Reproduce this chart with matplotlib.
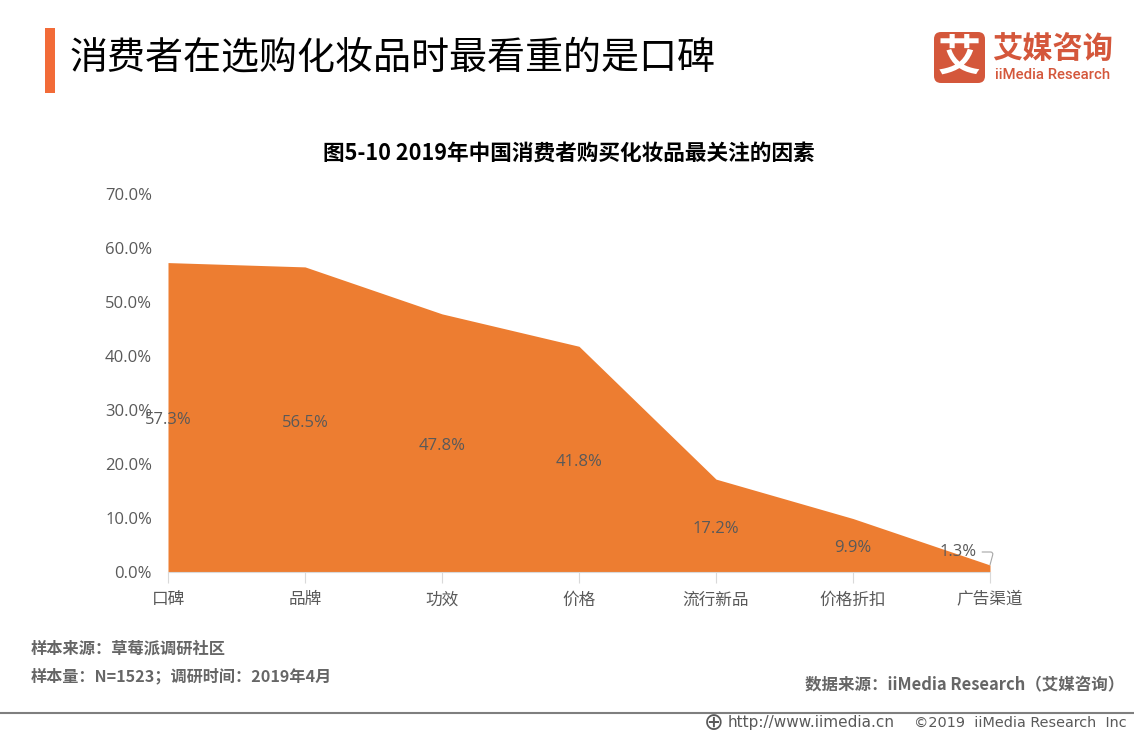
import matplotlib.pyplot as plt
from matplotlib.patches import FancyBboxPatch, Rectangle

plt.rcParams['font.family'] = ['Noto Sans CJK SC', 'DejaVu Sans']

# data
categories = ['口碑', '品牌', '功效', '价格', '流行新品', '价格折扣', '广告渠道']
values = [57.3, 56.5, 47.8, 41.8, 17.2, 9.9, 1.3]
y_ticks = [0, 10, 20, 30, 40, 50, 60, 70]

W, H = 1134, 737
fig = plt.figure(figsize=(W / 100, H / 100), dpi=100, facecolor='white')

# overlay in pixel coords for the page decoration
bg = fig.add_axes([0, 0, 1, 1])
bg.set_xlim(0, W)
bg.set_ylim(H, 0)
bg.axis('off')

# main plot
ax = fig.add_axes([168 / W, 1 - 572 / H, (990 - 168) / W, (572 - 194) / H])
x = list(range(len(categories)))
ax.fill_between(x, values, 0, color='#ED7D31', linewidth=0, zorder=2)
ax.set_xlim(0, 6)
ax.set_ylim(0, 70)
ax.patch.set_alpha(0)
for s in ['top', 'right', 'left']:
    ax.spines[s].set_visible(False)
ax.spines['bottom'].set_color('#D9D9D9')
ax.set_xticks(x)
ax.set_xticklabels(categories, fontsize=12, color='#595959')
ax.tick_params(axis='x', length=8, color='#D9D9D9', pad=6)
ax.set_yticks(y_ticks)
ax.set_yticklabels([f'{v:.1f}%' for v in y_ticks], fontsize=12, color='#595959',
                   family='Open Sans')
ax.tick_params(axis='y', length=0, pad=11.5)

# labels sit mid-height in the area, a touch under the middle
for i, v in enumerate(values[:-1]):
    ax.annotate(f'{v}%', xy=(i, v / 2), xytext=(0, -2.2), textcoords='offset points',
                ha='center', va='center', fontsize=12, color='#595959',
                family='Open Sans', annotation_clip=False, zorder=3)
ax.annotate(f'{values[-1]}%', xy=(6, values[-1]), xytext=(958, 552),
            textcoords=bg.transData, ha='center', va='center', fontsize=12,
            color='#595959', family='Open Sans', annotation_clip=False, zorder=3,
            arrowprops=dict(arrowstyle='-', color='#A6A6A6', lw=0.8,
                            connectionstyle='angle,angleA=0,angleB=75,rad=3',
                            shrinkA=2, shrinkB=0, relpos=(1, 0.5)))

# heading
bg.add_patch(Rectangle((45, 28), 10, 65, color='#F26B38', linewidth=0))
bg.text(70, 58, '消费者在选购化妆品时最看重的是口碑', fontsize=27.4, color='black',
        va='center', ha='left', weight='medium')
bg.text(569, 153, '图5-10 2019年中国消费者购买化妆品最关注的因素', fontsize=15.6,
        color='black', va='center', ha='center', weight='bold')

# logo
logo_red = '#D4573B'
bg.add_patch(FancyBboxPatch((934, 32), 51, 51, boxstyle='round,pad=0,rounding_size=7',
                            facecolor=logo_red, edgecolor=logo_red, linewidth=0))
bg.text(959.5, 58, '艾', fontsize=31, color='white', weight='black', ha='center', va='center')
bg.text(1053, 50, '艾媒咨询', fontsize=21.8, color=logo_red, weight='bold', ha='center', va='center')
bg.text(1053, 75, 'iiMedia Research', fontsize=10.7, color=logo_red, family='Roboto',
        weight='medium', ha='center', va='center')

# footer
bg.text(31, 648, '样本来源：草莓派调研社区', fontsize=11.7, color='#666666', weight='bold', va='center')
bg.text(31, 676, '样本量：N=1523；调研时间：2019年4月', fontsize=11.6, color='#666666', weight='bold', va='center')
bg.text(1124, 685, '数据来源：iiMedia Research（艾媒咨询）', fontsize=11.9, color='#666666',
        weight='bold', va='center', ha='right')
bg.plot([0, W], [712.5, 712.5], color='#7F7F7F', lw=1.5)
bg.text(714, 722.5, '⊕', fontsize=17, color='#595959', ha='center', va='center', family='DejaVu Sans')
bg.text(728, 723, 'http://www.iimedia.cn', fontsize=11, color='#595959', va='center', family='DejaVu Sans')
bg.text(1127, 723, '©2019  iiMedia Research  Inc', fontsize=10.4, color='#595959', va='center',
        ha='right', family='DejaVu Sans')

fig.savefig('out.png', dpi=100)
